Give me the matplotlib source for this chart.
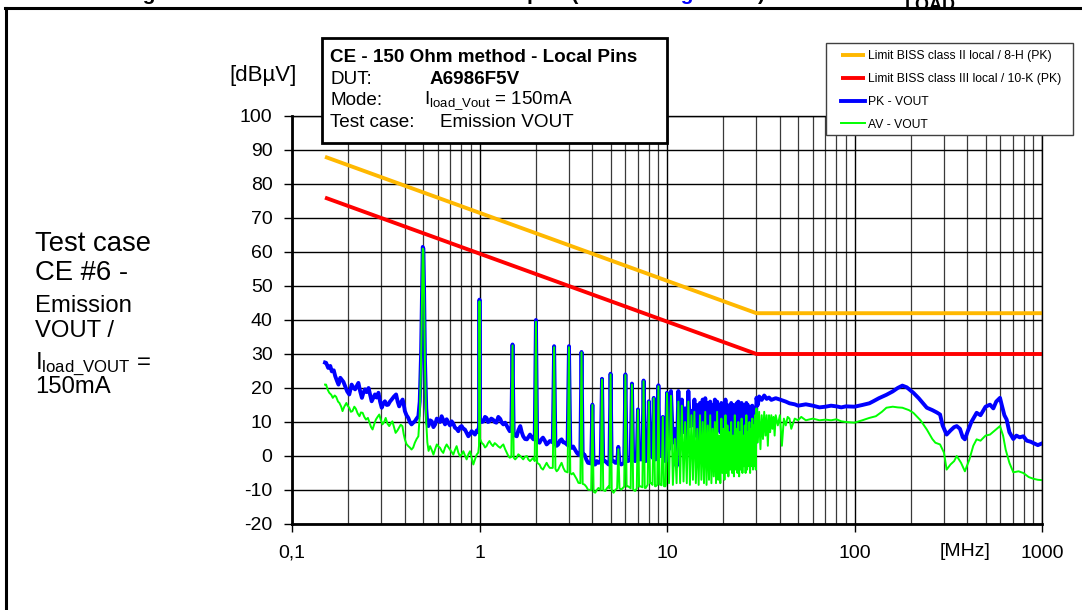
import matplotlib
matplotlib.use("Agg")
import matplotlib.pyplot as plt
from matplotlib.patches import Rectangle
from matplotlib.lines import Line2D

plt.rcParams['font.family'] = ['Liberation Sans', 'DejaVu Sans']
plt.rcParams['mathtext.fontset'] = 'custom'
plt.rcParams['mathtext.rm'] = 'Liberation Sans'
plt.rcParams['mathtext.it'] = 'Liberation Sans:italic'
plt.rcParams['mathtext.bf'] = 'Liberation Sans:bold'

# ---------------- data ----------------
X_TICKS = [0.1, 1, 10, 100, 1000]
X_TICK_LABELS = ['0,1', '1', '10', '100', '1000']
Y_TICKS = [-20, -10, 0, 10, 20, 30, 40, 50, 60, 70, 80, 90, 100]

LIMIT2_F = [0.15, 30, 1000]
LIMIT2_V = [88, 42, 42]
LIMIT3_F = [0.15, 30, 1000]
LIMIT3_V = [76, 30, 30]

LEGEND_LABELS = ['Limit BISS class II local / 8-H (PK)',
                 'Limit BISS class III local / 10-K (PK)',
                 'PK - VOUT', 'AV - VOUT']

PK_F = [0.150, 0.152, 0.156, 0.160, 0.163, 0.167, 0.170, 0.174, 0.177, 0.181,
        0.184, 0.188, 0.192, 0.197, 0.202, 0.205, 0.208, 0.212, 0.217, 0.221,
        0.226, 0.231, 0.236, 0.240, 0.245, 0.250, 0.256, 0.261, 0.266, 0.271,
        0.277, 0.283, 0.289, 0.295, 0.301, 0.307, 0.313, 0.320, 0.326, 0.333,
        0.340, 0.350, 0.359, 0.366, 0.373, 0.381, 0.389, 0.395, 0.400, 0.408,
        0.417, 0.425, 0.434, 0.443, 0.452, 0.462, 0.472, 0.480, 0.488, 0.494,
        0.498, 0.502, 0.506, 0.512, 0.520, 0.527, 0.534, 0.545, 0.556, 0.568,
        0.580, 0.592, 0.604, 0.616, 0.628, 0.641, 0.655, 0.668, 0.682, 0.696,
        0.710, 0.725, 0.740, 0.755, 0.771, 0.787, 0.803, 0.820, 0.836, 0.854,
        0.872, 0.890, 0.908, 0.927, 0.946, 0.966, 0.985, 0.994, 1.000, 1.006,
        1.03, 1.05, 1.07, 1.09, 1.11, 1.13, 1.155, 1.18, 1.205, 1.23,
        1.26, 1.29, 1.315, 1.34, 1.37, 1.40, 1.425, 1.45, 1.478, 1.5,
        1.522, 1.55, 1.58, 1.61, 1.65, 1.68, 1.71, 1.75, 1.79, 1.82,
        1.86, 1.90, 1.94, 1.97, 2.0, 2.03, 2.09, 2.13, 2.18, 2.23,
        2.28, 2.32, 2.37, 2.46, 2.5, 2.54, 2.58, 2.63, 2.68, 2.74,
        2.80, 2.86, 2.95, 3.0, 3.05, 3.10, 3.16, 3.23, 3.30, 3.37,
        3.45, 3.5, 3.55, 3.63, 3.71, 3.79, 3.94, 4.0, 4.06, 4.14,
        4.22, 4.31, 4.43, 4.5, 4.57, 4.68, 4.78, 4.88, 4.93, 5.0,
        5.07, 5.19, 5.30, 5.42, 5.50, 5.58, 5.70, 5.91, 6.0, 6.09,
        6.20, 6.40, 6.5, 6.60, 6.76, 6.90, 7.0, 7.10, 7.20, 7.39,
        7.5, 7.61, 7.70, 7.88, 8.0, 8.12, 8.20, 8.37, 8.5, 8.63,
        8.70, 8.87, 9.0, 9.13, 9.20, 9.36, 9.5, 9.64, 9.80, 9.85,
        10.0, 10.25, 10.5, 10.75, 11.0, 11.25, 11.5, 11.75, 12.0, 12.25,
        12.5, 12.75, 13.0, 13.25, 13.5, 13.75, 14.0, 14.25, 14.5, 14.75,
        15.0, 15.25, 15.5, 15.75, 16.0, 16.25, 16.5, 16.75, 17.0, 17.25,
        17.5, 17.75, 18.0, 18.25, 18.5, 18.75, 19.0, 19.25, 19.5, 19.75,
        20.0, 20.25, 20.5, 20.75, 21.0, 21.25, 21.5, 21.75, 22.0, 22.25,
        22.5, 22.75, 23.0, 23.25, 23.5, 23.75, 24.0, 24.25, 24.5, 24.75,
        25.0, 25.25, 25.5, 25.75, 26.0, 26.25, 26.5, 26.75, 27.0, 27.25,
        27.5, 27.75, 28.0, 28.25, 28.5, 28.75, 29.0, 29.25, 29.5, 29.75,
        30, 30.5, 31, 32, 33, 34, 35, 36, 38, 40,
        43, 45, 48, 50, 55, 60, 65, 70, 75, 80,
        85, 90, 100, 110, 120, 126, 135, 148, 160, 170,
        180, 190, 206, 220, 243, 260, 275, 286, 295, 310,
        325, 340, 351, 365, 378, 388, 400, 420, 448, 470,
        500, 528, 550, 570, 597, 610, 630, 648, 670, 703,
        730, 760, 795, 830, 870, 900, 950, 1000]
PK_V = [27.5, 27.4, 25.9, 26.5, 24.9, 25.2, 23.5, 22.0, 21.0, 23.0,
        22.5, 21.8, 20.5, 19.0, 18.1, 19.5, 21.0, 20.2, 19.6, 20.5,
        21.5, 19.0, 17.1, 18.5, 19.6, 18.8, 20.0, 18.0, 16.1, 17.0,
        18.1, 17.2, 18.6, 16.0, 14.2, 15.5, 16.1, 15.0, 15.1, 16.0,
        16.6, 17.5, 18.1, 16.0, 14.6, 15.8, 16.6, 15.0, 13.2, 12.0,
        11.2, 10.0, 9.3, 9.8, 10.2, 11.0, 11.7, 16.0, 30.0, 50.0,
        61.5, 61.0, 50.0, 28.0, 14.0, 9.5, 8.8, 10.5, 10.2, 8.5,
        9.3, 11.0, 10.7, 10.0, 11.7, 10.5, 9.3, 10.8, 9.8, 9.0,
        10.2, 9.5, 8.3, 8.0, 7.3, 8.5, 8.8, 8.0, 7.8, 6.8,
        5.8, 6.5, 7.3, 6.8, 6.3, 7.5, 7.0, 9.0, 46.0, 11.0,
        10.0, 10.2, 11.5, 11.2, 10.0, 10.2, 11.0, 10.7, 10.0, 9.8,
        11.5, 10.9, 9.8, 9.3, 9.8, 8.8, 8.0, 7.3, 7.5, 32.8,
        6.5, 6.0, 5.8, 7.5, 8.8, 7.0, 5.8, 5.0, 4.9, 5.5,
        6.3, 5.5, 4.9, 5.0, 40.0, 4.5, 3.9, 4.8, 5.4, 4.5,
        3.4, 3.8, 4.4, 4.0, 32.3, 3.5, 3.0, 3.4, 4.5, 4.9,
        4.0, 3.9, 3.2, 32.3, 2.8, 2.4, 2.8, 1.9, 1.0, 0.4,
        0.2, 30.6, 0.5, 0.4, -1.0, -2.0, -2.2, 15.1, -2.5, -2.5,
        -1.5, -2.0, -1.8, 22.7, -1.5, -1.5, -2.0, -2.5, -2.0, 24.2,
        -1.5, -1.5, -2.0, -2.0, 2.7, -2.0, -2.5, -2.0, 24.0, -1.5,
        -1.5, -1.0, 21.3, -1.0, -1.5, -1.0, 13.7, -1.0, -1.0, -1.0,
        22.2, -1.5, -1.5, -0.5, 16.1, 0.0, 0.4, -0.5, 17.1, -1.0,
        -1.0, -0.5, 20.8, 0.0, 0.0, 0.0, 11.5, -1.0, -1.5, -1.5,
        18.6, 2.0, 19.1, 4.0, 8.0, -3.0, 19.1, 6.0, 16.6, 7.0,
        14.0, 5.0, 19.1, 8.8, 13.2, 9.0, 16.6, 6.0, 15.0, 5.0,
        15.6, 1.0, 16.6, 3.0, 17.0, -1.0, 15.6, 4.0, 16.0, 6.0,
        15.0, 5.0, 16.6, 7.0, 16.0, 8.0, 14.0, 7.0, 15.6, 3.0,
        14.0, 2.0, 16.6, 5.0, 15.0, 4.0, 14.0, 6.0, 15.6, 5.0,
        15.0, 4.0, 14.0, 6.0, 15.5, 5.0, 16.0, 7.0, 14.5, 6.0,
        15.6, 5.0, 15.0, 7.0, 14.0, 6.0, 15.6, 5.0, 15.0, 8.0,
        14.0, 6.0, 14.5, 7.0, 14.8, 6.0, 13.5, 5.0, 14.0, 4.0,
        17.1, 15.0, 17.5, 16.5, 17.8, 16.8, 17.2, 16.5, 17.0, 16.6,
        16.0, 15.5, 15.2, 14.8, 15.2, 14.8, 14.3, 14.5, 14.8, 14.6,
        14.3, 14.6, 14.5, 15.0, 15.5, 16.1, 17.0, 18.0, 19.0, 20.0,
        20.7, 20.2, 18.6, 17.0, 14.2, 13.5, 12.8, 12.2, 9.0, 6.3,
        7.5, 8.5, 8.8, 8.0, 5.5, 4.9, 7.0, 10.0, 12.7, 12.0,
        14.5, 15.1, 14.0, 16.0, 17.1, 15.0, 12.0, 10.7, 7.0, 5.0,
        6.0, 5.5, 5.8, 4.5, 4.2, 3.8, 3.2, 3.7]

AV_F = [0.150, 0.152, 0.155, 0.158, 0.162, 0.165, 0.169, 0.172, 0.176, 0.179,
        0.183, 0.186, 0.190, 0.195, 0.198, 0.202, 0.206, 0.210, 0.215, 0.219,
        0.224, 0.229, 0.233, 0.238, 0.243, 0.248, 0.254, 0.259, 0.264, 0.269,
        0.275, 0.280, 0.286, 0.292, 0.298, 0.304, 0.310, 0.316, 0.323, 0.330,
        0.336, 0.343, 0.350, 0.357, 0.365, 0.372, 0.380, 0.388, 0.394, 0.400,
        0.408, 0.417, 0.425, 0.434, 0.443, 0.452, 0.462, 0.472, 0.480, 0.488,
        0.494, 0.498, 0.502, 0.506, 0.512, 0.520, 0.527, 0.535, 0.545, 0.556,
        0.568, 0.580, 0.592, 0.604, 0.616, 0.628, 0.641, 0.655, 0.668, 0.682,
        0.696, 0.710, 0.725, 0.740, 0.755, 0.771, 0.787, 0.803, 0.820, 0.836,
        0.854, 0.872, 0.890, 0.908, 0.927, 0.946, 0.966, 0.985, 0.994, 1.000,
        1.006, 1.03, 1.05, 1.07, 1.09, 1.11, 1.13, 1.155, 1.18, 1.205,
        1.23, 1.26, 1.29, 1.315, 1.34, 1.37, 1.40, 1.425, 1.45, 1.478,
        1.5, 1.522, 1.55, 1.58, 1.61, 1.65, 1.68, 1.71, 1.75, 1.79,
        1.82, 1.86, 1.90, 1.94, 1.97, 2.0, 2.03, 2.09, 2.13, 2.18,
        2.23, 2.28, 2.32, 2.37, 2.46, 2.5, 2.54, 2.58, 2.63, 2.68,
        2.74, 2.80, 2.86, 2.95, 3.0, 3.05, 3.10, 3.16, 3.23, 3.30,
        3.37, 3.45, 3.5, 3.55, 3.63, 3.71, 3.79, 3.94, 4.0, 4.06,
        4.14, 4.22, 4.31, 4.43, 4.5, 4.57, 4.68, 4.78, 4.88, 4.93,
        5.0, 5.07, 5.19, 5.30, 5.42, 5.50, 5.58, 5.70, 5.91, 6.0,
        6.09, 6.20, 6.40, 6.5, 6.60, 6.76, 6.90, 7.0, 7.10, 7.20,
        7.39, 7.5, 7.61, 7.70, 7.88, 8.0, 8.12, 8.20, 8.37, 8.5,
        8.63, 8.70, 8.87, 9.0, 9.13, 9.20, 9.36, 9.5, 9.64, 9.80,
        9.85, 10.0, 10.25, 10.5, 10.75, 11.0, 11.25, 11.5, 11.75, 12.0,
        12.25, 12.5, 12.75, 13.0, 13.25, 13.5, 13.75, 14.0, 14.25, 14.5,
        14.75, 15.0, 15.25, 15.5, 15.75, 16.0, 16.25, 16.5, 16.75, 17.0,
        17.25, 17.5, 17.75, 18.0, 18.25, 18.5, 18.75, 19.0, 19.25, 19.5,
        19.75, 20.0, 20.25, 20.5, 20.75, 21.0, 21.25, 21.5, 21.75, 22.0,
        22.25, 22.5, 22.75, 23.0, 23.25, 23.5, 23.75, 24.0, 24.25, 24.5,
        24.75, 25.0, 25.25, 25.5, 25.75, 26.0, 26.25, 26.5, 26.75, 27.0,
        27.25, 27.5, 27.75, 28.0, 28.25, 28.5, 28.75, 29.0, 29.25, 29.5,
        29.75, 30.0, 30.5, 31, 31.5, 32, 32.5, 33, 33.5, 34,
        34.5, 35, 35.5, 36, 36.5, 37, 37.5, 38, 39, 40,
        41, 42, 43, 44, 45, 46, 48, 50, 52, 55,
        60, 65, 70, 75, 80, 85, 90, 100, 110, 120,
        130, 140, 148, 160, 170, 180, 195, 206, 225, 243,
        260, 270, 286, 300, 310, 325, 340, 351, 370, 388,
        410, 430, 448, 470, 500, 528, 560, 597, 620, 640,
        670, 703, 750, 795, 850, 900, 950, 1000]
AV_V = [21.0, 21.0, 19.5, 18.6, 18.0, 17.1, 17.8, 17.4, 16.0, 15.6,
        14.5, 13.2, 14.5, 15.6, 14.8, 14.2, 13.0, 13.2, 14.5, 13.9,
        12.5, 11.7, 12.8, 12.7, 11.5, 10.7, 11.2, 9.8, 8.5, 7.8,
        9.5, 10.7, 11.5, 12.2, 10.5, 9.3, 10.0, 11.2, 9.5, 8.8,
        9.5, 10.2, 8.5, 6.8, 7.5, 8.3, 9.2, 8.8, 6.5, 4.9,
        3.5, 2.9, 2.5, 1.9, 2.5, 3.9, 5.0, 5.8, 12.0, 28.0,
        49.0, 61.0, 60.5, 49.0, 26.0, 10.0, 4.0, 1.5, 2.9, 1.8,
        0.4, 2.0, 3.4, 2.8, 2.4, 1.5, 0.9, 2.5, 3.4, 2.6,
        1.9, 1.2, 0.4, 1.8, 2.9, 1.0, -0.1, 0.5, 1.4, 0.2,
        -1.0, 0.5, 1.4, -0.5, -2.5, -1.0, 0.4, 1.0, 3.0, 45.5,
        5.0, 3.8, 3.4, 2.5, 2.9, 3.8, 4.4, 3.5, 2.9, 3.8,
        3.4, 2.8, 2.4, 3.0, 3.4, 2.0, 0.9, 0.0, -0.5, -0.3,
        32.5, -0.5, -1.0, -0.5, 0.5, 0.0, -0.5, -1.0, -0.2, 0.0,
        -1.0, -1.5, -1.0, -0.5, -1.5, 39.5, -2.0, -2.5, -3.5, -4.0,
        -3.0, -2.0, -2.8, -3.5, -3.5, 32.0, -3.8, -4.5, -4.0, -3.0,
        -2.0, -3.5, -4.5, -4.8, 32.0, -5.0, -5.4, -5.0, -5.9, -6.8,
        -7.9, -8.0, 30.5, -8.2, -8.4, -9.0, -9.9, -10.0, 15.0, -10.5,
        -10.8, -10.0, -9.4, -10.0, 22.5, -10.0, -10.3, -9.5, -8.9, -9.5,
        24.0, -10.0, -10.8, -10.0, -9.5, 2.0, -9.5, -9.9, -9.0, 23.8,
        -9.0, -8.9, -9.5, 21.0, -9.8, -10.3, -9.5, 13.5, -9.0, -8.9,
        -9.2, 22.0, -9.4, -9.4, -8.5, 16.0, -8.0, -7.9, -8.5, 17.0,
        -8.9, -8.9, -8.5, 20.5, -8.4, -8.4, -8.6, 11.5, -8.9, -8.9,
        -8.5, 18.5, -8.0, 17.7, -8.5, 5.0, -8.0, 16.0, -8.0, 14.8,
        -7.5, 10.0, -8.0, 16.0, -8.5, 12.0, -7.0, 13.0, -8.0, 8.0,
        -8.5, 12.0, -7.0, 10.0, -8.0, 13.0, -8.5, 9.0, -7.0, 12.0,
        -8.0, 8.0, -6.0, 10.0, -8.0, 13.0, -7.0, 6.0, -8.0, 11.0,
        -5.0, 8.0, -7.0, 12.0, -5.0, 9.0, -6.0, 7.0, -4.0, 10.0,
        -5.0, 6.0, -6.0, 12.0, -4.0, 8.0, -5.0, 10.0, -6.0, 7.0,
        -4.0, 11.0, -5.0, 6.0, -3.0, 9.0, -5.0, 12.0, -4.0, 7.0,
        -3.0, 10.0, -5.0, 8.0, -3.0, 11.0, -4.0, 9.0, -3.0, 12.0,
        -4.0, 14.0, 4.0, 13.0, 2.0, 12.0, 5.0, 13.0, 6.0, 12.0,
        3.0, 12.0, 7.0, 12.0, 8.0, 11.5, 6.0, 12.0, 9.0, 12.0,
        3.0, 11.0, 9.0, 11.5, 11.0, 8.0, 11.0, 10.5, 11.5, 10.5,
        11.0, 10.5, 10.7, 10.5, 10.8, 10.2, 10.0, 9.8, 10.5, 11.2,
        11.7, 13.0, 14.2, 14.5, 14.3, 14.2, 13.5, 12.7, 10.5, 7.8,
        5.0, 3.9, 3.4, 1.0, -4.0, -2.5, -1.5, 0.0, -2.0, -4.5,
        -1.0, 3.0, 4.9, 4.5, 6.0, 6.3, 7.5, 8.8, 6.0, 1.9,
        -2.0, -4.8, -4.5, -5.0, -6.2, -6.7, -7.0, -7.1]

# ---------------- figure ----------------
W, H = 1082, 610
fig = plt.figure(figsize=(W / 100, H / 100), dpi=100)
fig.patch.set_facecolor('white')


def fx(p):
    return p / W


def fy(p):
    return 1 - p / H


# outer frame (top and left edges visible)
fig.add_artist(Line2D([fx(5), fx(1082)], [fy(8), fy(8)], color='black', lw=2.2))
fig.add_artist(Line2D([fx(5.5), fx(5.5)], [fy(8), fy(612)], color='black', lw=2.2))

# caption of the page, cut off by the top edge as in the source
cap_kw = dict(fontsize=15, fontweight='bold', ha='left', va='baseline')
fig.text(fx(124), fy(0), 'Figure 36. CE 150 Ohm method - VOUT', **cap_kw)
fig.text(fx(527), fy(0), 'plot (', **cap_kw)
fig.text(fx(662), fy(0), 'Figure 34', color='#0000FF', **cap_kw)
fig.text(fx(758), fy(0), ') with I', **cap_kw)
fig.text(fx(905), fy(10), 'LOAD', fontsize=13, fontweight='bold', ha='left',
         va='baseline')

ax = fig.add_axes([fx(292), fy(524), fx(1042) - fx(292), fy(116) - fy(524)])
ax.set_xscale('log')
ax.set_xlim(0.1, 1000)
ax.set_ylim(-20, 100)
ax.set_xticks(X_TICKS)
ax.set_xticklabels(X_TICK_LABELS)
minor = [m * d for d in [0.1, 1, 10, 100] for m in range(2, 10)]
ax.set_xticks(minor, minor=True)
ax.set_yticks(Y_TICKS)
ax.set_yticklabels([str(v) for v in Y_TICKS])
ax.grid(which='major', axis='both', color='black', lw=1.0)
ax.grid(which='minor', axis='x', color='#3a3a3a', lw=0.9)
ax.tick_params(which='minor', length=0)
ax.tick_params(which='major', direction='out', length=6, width=1, labelsize=14,
               colors='black')
ax.tick_params(axis='y', pad=8)
ax.tick_params(axis='x', pad=9)
for s in ['left', 'bottom']:
    ax.spines[s].set_linewidth(2)
for s in ['top', 'right']:
    ax.spines[s].set_linewidth(1)
ax.set_axisbelow(True)

l1, = ax.plot(LIMIT2_F, LIMIT2_V, color='#FFB800', lw=2.8, solid_capstyle='butt')
l2, = ax.plot(LIMIT3_F, LIMIT3_V, color='#FF0000', lw=2.8, solid_capstyle='butt')
l3, = ax.plot(PK_F, PK_V, color='#0000FF', lw=2.8, solid_joinstyle='round')
l4, = ax.plot(AV_F, AV_V, color='#00FF00', lw=1.4)

fig.text(fx(263), fy(75), '[dBµV]', fontsize=16, ha='center', va='center')
fig.text(fx(965), fy(552), '[MHz]', fontsize=14, ha='center', va='center')

# legend (own frame)
fig.add_artist(Rectangle((fx(826), fy(135)), fx(1073) - fx(826), fy(43) - fy(135),
                         transform=fig.transFigure, facecolor='white',
                         edgecolor='#404040', lw=1, zorder=4))
leg = fig.legend([l1, l2, l3, l4], LEGEND_LABELS, loc='upper left',
                 bbox_to_anchor=(fx(835), fy(44)), fontsize=8.7, handlelength=2.0,
                 handletextpad=0.25, labelspacing=0.9, borderpad=0.5,
                 borderaxespad=0, frameon=False)
leg.set_zorder(5)

# info box
fig.add_artist(Rectangle((fx(322), fy(143)), fx(667) - fx(322), fy(38) - fy(143),
                         transform=fig.transFigure, facecolor='white', edgecolor='black',
                         lw=2, zorder=5))
fs = 13.6
fig.text(fx(330), fy(57), 'CE - 150 Ohm method - Local Pins', fontsize=fs,
         fontweight='bold', va='center', zorder=6)
fig.text(fx(330), fy(79), 'DUT:', fontsize=fs, va='center', zorder=6)
fig.text(fx(430), fy(79), 'A6986F5V', fontsize=fs, fontweight='bold', va='center', zorder=6)
fig.text(fx(330), fy(101), 'Mode:', fontsize=fs, va='center', zorder=6)
fig.text(fx(424), fy(101), r'I$_{\mathrm{load\_Vout}}$ = 150mA', fontsize=fs,
         va='center', zorder=6)
fig.text(fx(330), fy(123), 'Test case:', fontsize=fs, va='center', zorder=6)
fig.text(fx(440), fy(123), 'Emission VOUT', fontsize=fs, va='center', zorder=6)

# left annotation
fig.text(fx(35), fy(244), 'Test case', fontsize=19.8, va='center')
fig.text(fx(35), fy(273), 'CE #6 -', fontsize=19.8, va='center')
fig.text(fx(35), fy(306), 'Emission', fontsize=17.2, va='center')
fig.text(fx(35), fy(331), 'VOUT /', fontsize=17.2, va='center')
fig.text(fx(35), fy(364), r'I$_{\mathrm{load\_VOUT}}$ =', fontsize=17.2, va='center')
fig.text(fx(35), fy(387), '150mA', fontsize=17.2, va='center')

fig.savefig('out.png', dpi=100)
